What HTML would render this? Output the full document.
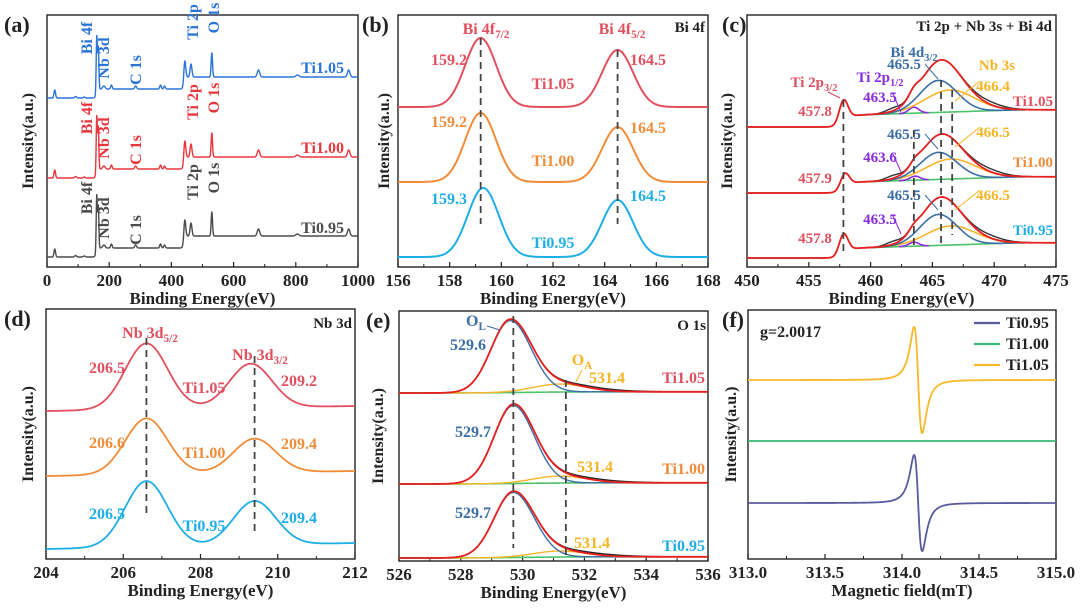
<!DOCTYPE html>
<html><head><meta charset="utf-8">
<style>
html,body{margin:0;padding:0;background:#fff;}
svg{display:block;font-family:"Liberation Serif",serif;font-weight:bold;}
</style></head>
<body>
<svg id="fig" width="1080" height="612" viewBox="0 0 1080 612" xmlns="http://www.w3.org/2000/svg"></svg>
<script>
// ---------- Panel (a) survey ----------
const aSamples = ['Ti0.95','Ti1.00','Ti1.05'];
const aBase = [10, 89, 169];
const aPeakPos = [25, 92, 120, 160, 165, 183, 207, 285, 365, 378, 443, 463, 530, 680, 805, 970];
const aPeakHt  = [8, 1.5, 1, 55, 42, 3, 4, 3, 4, 3, 18, 13, 24, 7, 2, 7];
const aPeakW   = [2.5, 3, 3, 1.8, 1.8, 4, 2.5, 3, 2.5, 2.5, 3, 3, 2.2, 4, 5, 4];
const aStepPos = [158, 440];
const aStepHt  = [9, 12];
const aXTicks = [0, 200, 400, 600, 800, 1000];

// ---------- Panel (b) Bi 4f ----------
const bSamples = ['Ti0.95','Ti1.00','Ti1.05'];
const bBase = [10, 85, 160];
const bPos1 = [159.3, 159.2, 159.2];
const bPos2 = [164.5, 164.5, 164.5];
const bHt1 = [69, 69, 69];
const bHt2 = [57, 55, 57];
const bXTicks = [156, 158, 160, 162, 164, 166, 168];

// ---------- Panel (c) Ti 2p + Nb 3s + Bi 4d ----------
const cSamples = ['Ti0.95','Ti1.00','Ti1.05'];
const cBase = [9, 74, 140];
const cStep = [10, 11, 12];
const cTiPos = [457.8, 457.9, 457.8];
const cTiHt = [20, 14, 22];
const cP12Pos = [463.5, 463.6, 463.5];
const cP12Ht = [4, 4, 6];
const cBiPos = [465.5, 465.5, 465.5];
const cBiHt = [31, 27, 32];
const cNbPos = [466.5, 466.5, 466.4];
const cNbHt = [19, 20, 22];
const cXTicks = [450, 455, 460, 465, 470, 475];

// ---------- Panel (d) Nb 3d ----------
const dSamples = ['Ti0.95','Ti1.00','Ti1.05'];
const dBaseL = [10, 83, 148];
const dBaseR = [16, 88, 153];
const dPos1 = [206.6, 206.6, 206.6];
const dPos2 = [209.4, 209.4, 209.3];
const dHt1 = [66, 56, 66];
const dHt2 = [44, 34, 44];
const dXTicks = [204, 206, 208, 210, 212];

// ---------- Panel (e) O 1s ----------
const eSamples = ['Ti0.95','Ti1.00','Ti1.05'];
const eBase = [3, 77, 168];
const eOLPos = [529.7, 529.7, 529.6];
const eOLHt = [65, 78, 72];
const eOAPos = [531.2, 531.2, 531.2];
const eOAHt = [6, 7, 8];
const eXTicks = [526, 528, 530, 532, 534, 536];

// ---------- Panel (f) EPR ----------
const fSamples = ['Ti0.95','Ti1.00','Ti1.05'];
const fBase = [56, 118, 179];
const fAmp = [48, 0, 53];
const fCenter = [314.105, 314.105, 314.105];
const fXTicks = [313.0, 313.5, 314.0, 314.5, 315.0];

const NS = 'http://www.w3.org/2000/svg';
const svg = document.getElementById('fig');
function mk(tag, attrs, name, parent) {
  const el = document.createElementNS(NS, tag);
  for (const k in attrs) el.setAttribute(k, attrs[k]);
  
  
  (parent || svg).appendChild(el);
  return el;
}
function txt(x, y, s, name, opt) {
  opt = opt || {};
  const t = mk('text', {x: x, y: y, 'font-size': opt.size || 15, fill: opt.fill || '#222',
    'text-anchor': opt.anchor || 'middle'}, name);
  if (opt.rot) t.setAttribute('transform', 'rotate(-90 ' + x + ' ' + y + ')');
  t.textContent = s;
  return t;
}
function txtSub(x, y, main, sub, name, opt) {
  opt = opt || {};
  const t = mk('text', {x: x, y: y, 'font-size': opt.size || 15, fill: opt.fill || '#222',
    'text-anchor': opt.anchor || 'middle'}, name);
  const a = document.createElementNS(NS, 'tspan'); a.textContent = main; t.appendChild(a);
  const b = document.createElementNS(NS, 'tspan'); b.setAttribute('font-size', (opt.size || 15) * 0.7);
  b.setAttribute('dy', 4); b.textContent = sub; t.appendChild(b);
  return t;
}
const gauss = (x, c, h, s) => h * Math.exp(-((x - c) * (x - c)) / (2 * s * s));
const sig = z => 1 / (1 + Math.exp(-z));

function panel(P) {
  const xs = v => P.l + (v - P.x0) / (P.x1 - P.x0) * (P.r - P.l);
  const ys = v => P.b - v;
  P.xs = xs; P.ys = ys;
  mk('rect', {x: P.l, y: P.t, width: P.r - P.l, height: P.b - P.t, fill: 'none', stroke: '#222', 'stroke-width': 1.4}, P.id + '-frame');
  P.ticks.forEach((v, i) => {
    mk('line', {x1: xs(v), x2: xs(v), y1: P.b, y2: P.b - 5, stroke: '#222', 'stroke-width': 1.2}, P.id + '-x-tick');
    txt(xs(v), P.b + 19, P.tickFmt ? P.tickFmt(v) : String(v), P.id + '-x-tick-label', {size: 17});
    if (i < P.ticks.length - 1) {
      const m = (v + P.ticks[i + 1]) / 2;
      mk('line', {x1: xs(m), x2: xs(m), y1: P.b, y2: P.b - 3, stroke: '#222', 'stroke-width': 1}, P.id + '-x-minor-tick');
    }
  });
  txt((P.l + P.r) / 2, P.b + 37, P.xtitle, P.id + '-x-axis-title', {size: 17});
  txt(P.ytx, (P.t + P.b) / 2, 'Intensity(a.u.)', P.id + '-y-axis-title', {size: 16, rot: true});
  txt(P.letX, P.t + 17, P.letter, P.id + '-panel-label', {size: 22, anchor: 'start'});
  return P;
}
function curve(P, f, color, name, w, n) {
  n = n || 500;
  let d = '';
  for (let i = 0; i <= n; i++) {
    const x = P.x0 + (P.x1 - P.x0) * i / n;
    d += (i ? 'L' : 'M') + P.xs(x).toFixed(2) + ' ' + P.ys(f(x)).toFixed(2);
  }
  return mk('path', {d: d, fill: 'none', stroke: color, 'stroke-width': w || 1.6, 'stroke-linejoin': 'round'}, name);
}
function dash(P, xv, y1, y2, name) {
  mk('line', {x1: P.xs(xv), x2: P.xs(xv), y1: y1, y2: y2, stroke: '#444', 'stroke-width': 1.8, 'stroke-dasharray': '7 5'}, name);
}

// ===== (a)
const A = panel({id: 'a', l: 47, r: 358, t: 15, b: 267, x0: 0, x1: 1000, ticks: aXTicks, xtitle: 'Binding Energy(eV)', ytx: 33, letter: '(a)', letX: 4});
const aColors = ['#4a4a4a', '#e8363c', '#2a74d8'];
aSamples.forEach((s, k) => {
  curve(A, x => {
    let v = aBase[k];
    aStepPos.forEach((p, j) => { v += aStepHt[j] * sig((x - p) / 2); });
    aPeakPos.forEach((p, j) => { v += gauss(x, p, aPeakHt[j], aPeakW[j]); });
    return v;
  }, aColors[k], 'survey-line-' + s, 1.4, 1200);
});
[[0, 160], [1, 80], [2, 0]].forEach(([k, dy]) => {
  const c = aColors[k];
  txt(92, 38 + dy, 'Bi 4f', 'label-bi4f-' + aSamples[k], {size: 16, fill: c, rot: true});
  txt(109, 58 + dy, 'Nb 3d', 'label-nb3d-' + aSamples[k], {size: 16, fill: c, rot: true});
  txt(141, 70 + dy, 'C 1s', 'label-c1s-' + aSamples[k], {size: 16, fill: c, rot: true});
  txt(198, 22 + dy, 'Ti 2p', 'label-ti2p-' + aSamples[k], {size: 16, fill: c, rot: true});
  txt(219, 18 + dy, 'O 1s', 'label-o1s-' + aSamples[k], {size: 16, fill: c, rot: true});
  txt(344, 73 + dy, aSamples[k], 'sample-label-' + aSamples[k], {size: 16, fill: c, anchor: 'end'});
});

// ===== (b)
const B = panel({id: 'b', l: 398, r: 708, t: 15, b: 267, x0: 156, x1: 168, ticks: bXTicks, xtitle: 'Binding Energy(eV)', ytx: 389, letter: '(b)', letX: 362});
const bColors = ['#1eaee6', '#f08c38', '#e0505f'];
bSamples.forEach((s, k) => {
  curve(B, x => bBase[k] + gauss(x, bPos1[k], bHt1[k], 0.6) + gauss(x, bPos2[k], bHt2[k], 0.6), bColors[k], 'bi4f-line-' + s, 2);
});
dash(B, 159.2, 38, 224, 'bi4f72-dash');
dash(B, 164.5, 50, 224, 'bi4f52-dash');
txtSub(486, 34, 'Bi 4f', '7/2', 'label-bi4f72', {size: 16, fill: '#e0505f'});
txtSub(622, 34, 'Bi 4f', '5/2', 'label-bi4f52', {size: 16, fill: '#e0505f'});
txt(705, 32, 'Bi 4f', 'bi4f-title', {size: 15, anchor: 'end'});
const bLabY = [[204, 201, 248], [127, 133, 166], [65, 65, 89]];
bSamples.forEach((s, k) => {
  txt(449, bLabY[k][0], bPos1[k].toFixed(1), 'value-label-' + s, {size: 16, fill: bColors[k]});
  txt(648, bLabY[k][1], bPos2[k].toFixed(1), 'value-label-' + s, {size: 16, fill: bColors[k]});
  txt(553, bLabY[k][2], s, 'sample-label-' + s, {size: 16, fill: bColors[k]});
});

// ===== (c)
const C = panel({id: 'c', l: 747, r: 1056, t: 15, b: 267, x0: 450, x1: 475, ticks: cXTicks, xtitle: 'Binding Energy(eV)', ytx: 732, letter: '(c)', letX: 722});
cSamples.forEach((s, k) => {
  const bg = x => cBase[k] + cStep[k] * sig((x - 457.9) / 0.3) + 0.4 * Math.min(Math.max(x - 459, 0), 13);
  const comp = x => gauss(x, cBiPos[k], cBiHt[k], 1.5) + gauss(x, cNbPos[k], cNbHt[k], 2.0) + gauss(x, cP12Pos[k], cP12Ht[k], 0.4);
  curve(C, x => bg(x) + gauss(x, cTiPos[k], cTiHt[k], 0.35) + comp(x) + gauss(x, 461.8, 3, 0.6) + gauss(x, 469.6, 3, 1.2), '#333', 'raw-data-' + s, 1.4);
  const sub = (f, name, col, lo, hi) => {
    let d = '';
    for (let i = 0; i <= 200; i++) {
      const x = lo + (hi - lo) * i / 200;
      d += (i ? 'L' : 'M') + C.xs(x).toFixed(2) + ' ' + C.ys(bg(x) + f(x)).toFixed(2);
    }
    mk('path', {d: d, fill: 'none', stroke: col, 'stroke-width': 1.6}, name);
  };
  sub(x => 0, 'background-' + s, '#4cc36a', 459.5, 472.5);
  sub(x => gauss(x, cP12Pos[k], cP12Ht[k], 0.4), 'ti2p12-fit-' + s, '#8a2be2', 462.3, 464.7);
  sub(x => gauss(x, cNbPos[k], cNbHt[k], 2.0), 'nb3s-fit-' + s, '#f7b52a', 459.5, 472.5);
  sub(x => gauss(x, cBiPos[k], cBiHt[k], 1.5), 'bi4d32-fit-' + s, '#3a6ea5', 459.5, 472.5);
  curve(C, x => bg(x) + gauss(x, cTiPos[k], cTiHt[k], 0.35) + comp(x), '#e8201f', 'envelope-fit-' + s, 1.8);
});
dash(C, 457.8, 100, 252, 'ti2p32-dash');
dash(C, 463.5, 130, 245, 'ti2p12-dash');
dash(C, 465.7, 80, 245, 'bi4d-dash');
dash(C, 466.6, 90, 235, 'nb3s-dash');
txt(1052, 31, 'Ti 2p + Nb 3s + Bi 4d', 'c-title', {size: 15, anchor: 'end'});
txtSub(914, 57, 'Bi 4d', '3/2', 'label-bi4d32', {size: 15, fill: '#3a6ea5'});
txtSub(880, 82, 'Ti 2p', '1/2', 'label-ti2p12', {size: 15, fill: '#8a2be2'});
txtSub(814, 87, 'Ti 2p', '3/2', 'label-ti2p32', {size: 15, fill: '#e0505f'});
txt(997, 70, 'Nb 3s', 'label-nb3s', {size: 15, fill: '#f5b525'});
const cY = [[200, 200, 224, 243, 235], [139, 137, 162, 183, 167], [69, 91, 102, 116, 106]];
const cSampCol = ['#1eaee6', '#f08c38', '#e0505f'];
cSamples.forEach((s, k) => {
  txt(904, cY[k][0], cBiPos[k].toFixed(1), 'bi4d-value-' + s, {size: 15, fill: '#3a6ea5'});
  txt(993, cY[k][1], cNbPos[k].toFixed(1), 'nb3s-value-' + s, {size: 15, fill: '#f5b525'});
  txt(880, cY[k][2], cP12Pos[k].toFixed(1), 'ti2p12-value-' + s, {size: 15, fill: '#8a2be2'});
  txt(815, cY[k][3], cTiPos[k].toFixed(1), 'ti2p32-value-' + s, {size: 15, fill: '#e0505f'});
  txt(1053, cY[k][4], s, 'sample-label-' + s, {size: 15, fill: cSampCol[k], anchor: 'end'});
  mk('line', {x1: 893, y1: cY[k][2] - 8, x2: 901, y2: cY[k][2] + 10, stroke: '#8a2be2', 'stroke-width': 1}, 'leader-ti2p12');
  mk('line', {x1: 925, y1: cY[k][0] - 5, x2: 938, y2: cY[k][0] + 10, stroke: '#3a6ea5', 'stroke-width': 1}, 'leader-bi4d');
  mk('line', {x1: 980, y1: cY[k][1] - 10, x2: 955, y2: cY[k][1] + 10, stroke: '#f5b525', 'stroke-width': 1}, 'leader-nb3s');
});
mk('line', {x1: 828, y1: 92, x2: 840, y2: 98, stroke: '#e0505f', 'stroke-width': 1.2}, 'leader-ti2p32');

// ===== (d)
const D = panel({id: 'd', l: 46, r: 355, t: 309, b: 559, x0: 204, x1: 212, ticks: dXTicks, xtitle: 'Binding Energy(eV)', ytx: 33, letter: '(d)', letX: 4});
const dColors = ['#1eaee6', '#f08c38', '#e0505f'];
dSamples.forEach((s, k) => {
  curve(D, x => dBaseL[k] + (dBaseR[k] - dBaseL[k]) * (x - 204) / 8 + gauss(x, dPos1[k], dHt1[k], 0.55) + gauss(x, dPos2[k], dHt2[k], 0.55), dColors[k], 'nb3d-line-' + s, 1.8);
});
dash(D, 206.6, 338, 513, 'nb3d52-dash');
dash(D, 209.4, 356, 533, 'nb3d32-dash');
txtSub(150, 338, 'Nb 3d', '5/2', 'label-nb3d52', {size: 16, fill: '#e0505f'});
txtSub(260, 360, 'Nb 3d', '3/2', 'label-nb3d32', {size: 16, fill: '#e0505f'});
txt(352, 328, 'Nb 3d', 'nb3d-title', {size: 15, anchor: 'end'});
const dVals1 = ['206.5', '206.6', '206.5'];
const dVals2 = ['209.4', '209.4', '209.2'];
const dY = [[519, 531, 523], [448, 458, 449], [373, 393, 386]];
dSamples.forEach((s, k) => {
  txt(107, dY[k][0], dVals1[k], 'value-label-' + s, {size: 16, fill: dColors[k]});
  txt(204, dY[k][1], s, 'sample-label-' + s, {size: 16, fill: dColors[k]});
  txt(299, dY[k][2], dVals2[k], 'value-label-' + s, {size: 16, fill: dColors[k]});
});

// ===== (e)
const E = panel({id: 'e', l: 399, r: 708, t: 311, b: 561, x0: 526, x1: 536, ticks: eXTicks, xtitle: 'Binding Energy(eV)', ytx: 383, letter: '(e)', letX: 366});
const eSampCol = ['#1eaee6', '#f08c38', '#e0505f'];
eSamples.forEach((s, k) => {
  const bg = x => eBase[k] + 1.2 * sig((x - 530) / 0.8);
  const ol = x => gauss(x, eOLPos[k], eOLHt[k], x < eOLPos[k] ? 0.62 : 0.68);
  const oa = x => gauss(x, eOAPos[k], eOAHt[k], 0.85);
  curve(E, x => bg(x) + ol(x) + oa(x) + gauss(x, 532.4, 1.5, 1), '#222', 'raw-data-' + s, 1.4);
  curve(E, x => bg(x), '#4cc36a', 'background-' + s, 1.6);
  curve(E, x => bg(x) + oa(x), '#f7b52a', 'oa-fit-' + s, 1.4);
  curve(E, x => bg(x) + ol(x), '#3a6ea5', 'ol-fit-' + s, 1.4);
  curve(E, x => bg(x) + ol(x) + oa(x), '#e8201f', 'envelope-fit-' + s, 1.8);
});
dash(E, 529.7, 316, 548, 'ol-dash');
dash(E, 531.4, 380, 560, 'oa-dash');
txtSub(476, 326, 'O', 'L', 'label-ol', {size: 16, fill: '#3a6ea5'});
mk('line', {x1: 487, y1: 326, x2: 500, y2: 330, stroke: '#3a6ea5', 'stroke-width': 1}, 'leader-ol');
txtSub(582, 365, 'O', 'A', 'label-oa', {size: 16, fill: '#f5b525'});
mk('line', {x1: 582, y1: 370, x2: 576, y2: 382, stroke: '#f5b525', 'stroke-width': 1}, 'leader-oa');
txt(706, 330, 'O 1s', 'o1s-title', {size: 15, anchor: 'end'});
const eY = [[518, 548, 551], [437, 472, 474], [350, 383, 383]];
const eX = [473, 473, 468];
const eX2 = [592, 595, 607];
eSamples.forEach((s, k) => {
  txt(eX[k], eY[k][0], eOLPos[k].toFixed(1), 'ol-value-' + s, {size: 16, fill: '#3a6ea5'});
  txt(eX2[k], eY[k][1], '531.4', 'oa-value-' + s, {size: 16, fill: '#f5b525'});
  txt(705, eY[k][2], s, 'sample-label-' + s, {size: 16, fill: eSampCol[k], anchor: 'end'});
});

// ===== (f)
const F = panel({id: 'f', l: 748, r: 1056, t: 310, b: 559, x0: 313, x1: 315, ticks: fXTicks, xtitle: 'Magnetic field(mT)', ytx: 736, letter: '(f)', letX: 722, tickFmt: v => v.toFixed(1)});
const fColors = ['#5a5b9c', '#3cb878', '#f7b92a'];
fSamples.forEach((s, k) => {
  const w = 0.026;
  curve(F, x => {
    const z = (x - fCenter[k]) / w;
    return fBase[k] + fAmp[k] * 1.78 * (-z / Math.pow(1 + z * z / 3, 2));
  }, fColors[k], 'epr-line-' + s, 1.8, 2000);
});
txt(760, 337, 'g=2.0017', 'g-value-label', {size: 16, anchor: 'start'});
fSamples.forEach((s, i) => {
  const y = 323 + i * 21;
  mk('line', {x1: 974, x2: 1000, y1: y, y2: y, stroke: fColors[i], 'stroke-width': 2.2}, 'legend-line-' + s);
  txt(1006, y + 5, s, 'legend-entry-' + s, {size: 16, anchor: 'start'});
});
</script>
</body></html>
